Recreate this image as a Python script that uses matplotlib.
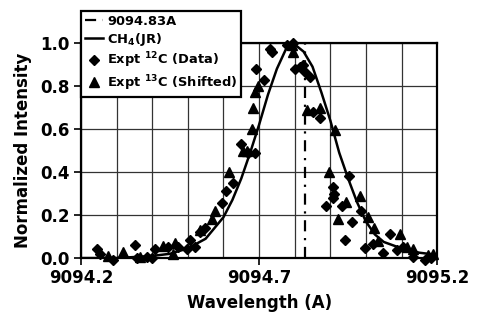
import matplotlib
matplotlib.use('Agg')
import matplotlib.pyplot as plt
import numpy as np

plt.rcParams['font.family'] = ['DejaVu Sans']
plt.rcParams['font.weight'] = 'bold'
plt.rcParams['mathtext.fontset'] = 'custom'
plt.rcParams['mathtext.rm'] = 'DejaVu Sans:bold'
plt.rcParams['mathtext.it'] = 'DejaVu Sans:bold'
plt.rcParams['mathtext.bf'] = 'DejaVu Sans:bold'
plt.rcParams['mathtext.default'] = 'rm'

# CH4 (JR) model line
ch4_wl = [9094.20, 9094.30, 9094.40, 9094.45, 9094.50, 9094.55, 9094.60, 9094.625,
          9094.65, 9094.675, 9094.70, 9094.725, 9094.75, 9094.775, 9094.795, 9094.825,
          9094.85, 9094.875, 9094.90, 9094.925, 9094.95, 9094.975, 9095.00, 9095.025,
          9095.05, 9095.10, 9095.15, 9095.20]
ch4_int = [0.00, 0.00, 0.01, 0.02, 0.045, 0.09, 0.19, 0.27,
           0.37, 0.49, 0.62, 0.76, 0.88, 0.97, 1.00, 0.96,
           0.89, 0.77, 0.64, 0.49, 0.37, 0.26, 0.17, 0.11,
           0.075, 0.045, 0.025, 0.015]

# Expt 12C (Data)
c12_wl = [9094.245, 9094.253, 9094.290, 9094.352, 9094.357, 9094.385, 9094.399, 9094.408,
          9094.444, 9094.472, 9094.498, 9094.506, 9094.520, 9094.534, 9094.548, 9094.596,
          9094.607, 9094.627, 9094.649, 9094.669, 9094.689, 9094.692, 9094.714, 9094.731,
          9094.737, 9094.779, 9094.796, 9094.801, 9094.815, 9094.824, 9094.829, 9094.843,
          9094.852, 9094.871, 9094.888, 9094.908, 9094.911, 9094.908, 9094.933, 9094.942,
          9094.953, 9094.961, 9094.987, 9094.998, 9095.020, 9095.048, 9095.068, 9095.088,
          9095.104, 9095.133, 9095.166, 9095.183]
c12_int = [0.04, 0.02, -0.01, 0.06, 0.00, 0.005, 0.00, 0.04,
           0.05, 0.05, 0.04, 0.085, 0.05, 0.12, 0.14, 0.255,
           0.31, 0.35, 0.53, 0.49, 0.49, 0.88, 0.83, 0.97,
           0.96, 0.99, 1.00, 0.88, 0.89, 0.90, 0.865, 0.84,
           0.68, 0.65, 0.24, 0.33, 0.30, 0.28, 0.24, 0.085,
           0.38, 0.17, 0.22, 0.047, 0.065, 0.023, 0.11, 0.037,
           0.05, 0.005, -0.01, 0.00]

# Expt 13C (Shifted)
c13_wl = [9094.276, 9094.318, 9094.366, 9094.430, 9094.458, 9094.464, 9094.534, 9094.568,
          9094.576, 9094.616, 9094.655, 9094.666, 9094.680, 9094.683, 9094.689, 9094.697,
          9094.793, 9094.796, 9094.835, 9094.871, 9094.913, 9094.897, 9094.922, 9094.944,
          9094.984, 9095.006, 9095.023, 9095.034, 9095.096, 9095.116, 9095.133, 9095.175,
          9095.189]
c13_int = [0.01, 0.03, 0.005, 0.055, 0.02, 0.07, 0.13, 0.18,
           0.22, 0.40, 0.50, 0.50, 0.60, 0.70, 0.77, 0.80,
           0.99, 0.96, 0.69, 0.70, 0.595, 0.40, 0.18, 0.26,
           0.29, 0.19, 0.14, 0.08, 0.11, 0.05, 0.04, 0.015,
           0.02]

line_wl = 9094.83
xtick_vals = [9094.2, 9094.7, 9095.2]
xtick_labels = ['9094.2', '9094.7', '9095.2']

fig = plt.figure(figsize=(4.82, 3.21), dpi=100)
ax = fig.add_axes([0.168, 0.196, 0.739, 0.670])

ax.plot([line_wl, line_wl], [0, 1.0], color='black', lw=1.6,
        linestyle=(0, (5, 3, 1, 3)), label='9094.83A')
ax.plot(ch4_wl, ch4_int, color='black', lw=1.8, label='CH$_4$(JR)')
ax.plot(c12_wl, c12_int, 'D', color='black', ms=5.5, ls='none',
        label='Expt $^{12}$C (Data)', clip_on=False)
ax.plot(c13_wl, c13_int, '^', color='black', ms=7, ls='none',
        label='Expt $^{13}$C (Shifted)', clip_on=False)

ax.set_xlim(9094.2, 9095.2)
ax.set_ylim(0, 1.0)
ax.set_xticks(xtick_vals)
ax.set_xticklabels(xtick_labels)
ax.set_xticks(np.arange(9094.3, 9095.2, 0.1), minor=True)
ax.set_yticks(np.arange(0, 1.01, 0.2))
ax.set_yticklabels(['%.1f' % v for v in np.arange(0, 1.01, 0.2)])
ax.tick_params(axis='x', which='minor', length=0)
ax.tick_params(axis='both', which='major', direction='out', length=5, width=1.2,
               labelsize=12, pad=3)
ax.grid(True, which='both', color='#333333', lw=0.9)
ax.set_axisbelow(True)
for s in ax.spines.values():
    s.set_linewidth(1.6)

ax.set_xlabel('Wavelength (A)', fontsize=12, fontweight='bold', labelpad=5)
ax.set_ylabel('Normalized Intensity', fontsize=12, fontweight='bold', labelpad=6)

leg = ax.legend(loc='upper left', bbox_to_anchor=(81 / 482, 1 - 11 / 321),
                bbox_transform=fig.transFigure, borderaxespad=0, fancybox=False,
                framealpha=1, edgecolor='black', fontsize=9.4, handlelength=1.4,
                handletextpad=0.3, labelspacing=0.22, borderpad=0.3)
leg.get_frame().set_linewidth(1.6)

fig.savefig('out.png', dpi=100)
